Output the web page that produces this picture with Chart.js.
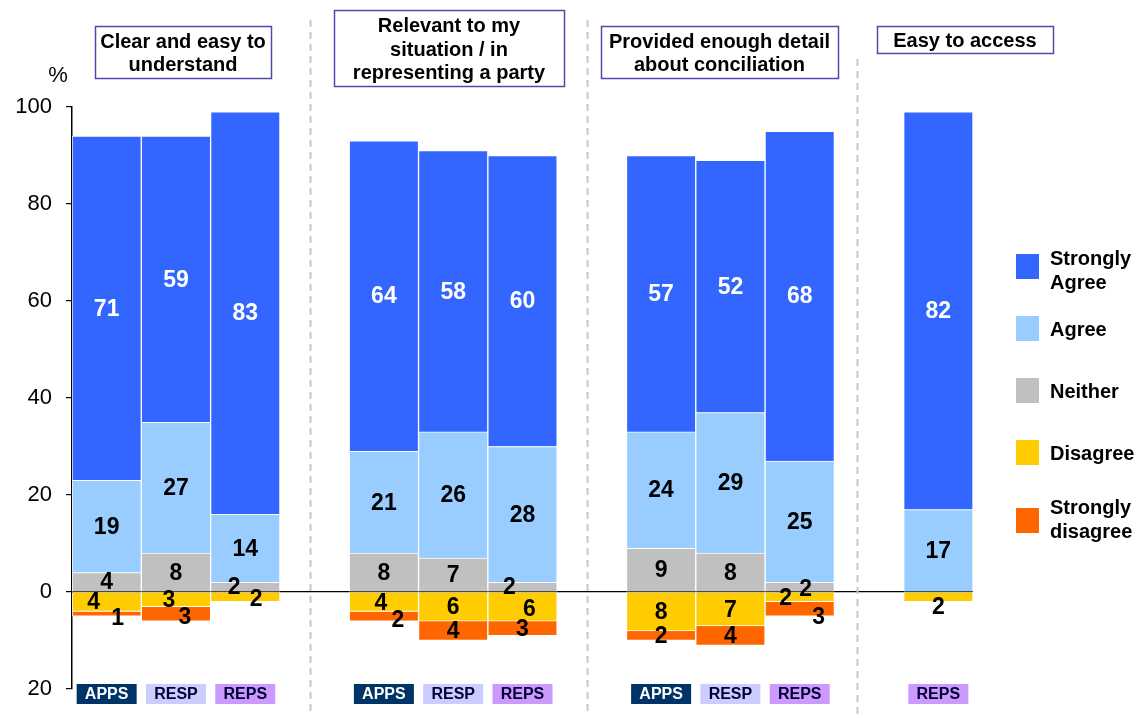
<!DOCTYPE html>
<html>
<head>
<meta charset="utf-8">
<script src="https://cdn.jsdelivr.net/npm/chart.js@4"></script>
<style>
  body { margin: 0; background: #fff; }
  #wrap { width: 1140px; height: 718px; }
</style>
</head>
<body>
<div id="wrap"><canvas id="myChart" width="1140" height="718"></canvas></div>
<script>
// 資料：每組三條（最後一組只有 REPS），空位用 null 隔開
const barLabels = ['APPS', 'RESP', 'REPS', '', 'APPS', 'RESP', 'REPS', '', 'APPS', 'RESP', 'REPS', '', 'REPS'];
const stronglyAgree = [71, 59, 83, null, 64, 58, 60, null, 57, 52, 68, null, 82];
const agree = [19, 27, 14, null, 21, 26, 28, null, 24, 29, 25, null, 17];
const neither = [4, 8, 2, null, 8, 7, 2, null, 9, 8, 2, null, null];
const disagree = [-4, -3, -2, null, -4, -6, -6, null, -8, -7, -2, null, -2];
const stronglyDisagree = [-1, -3, null, null, -2, -4, -3, null, -2, -4, -3, null, null];

const groupTitles = [
    ['Clear and easy to', 'understand'],
    ['Relevant to my', 'situation / in', 'representing a party'],
    ['Provided enough detail', 'about conciliation'],
    ['Easy to access']
];
const yTicks = [-20, 0, 20, 40, 60, 80, 100];

const FONT = "'Liberation Sans', Arial, sans-serif";

// 標題框位置（像素）
const titleBoxes = [
    { x: 95, y: 26, w: 176, h: 52 },
    { x: 334, y: 10, w: 230, h: 76 },
    { x: 601, y: 26, w: 237, h: 52 },
    { x: 877, y: 26, w: 176, h: 27 }
];

// 小段落的標籤微調 [dx, dy]，key = 資料集-索引
const labelNudge = {
    '3-0': [-13, 0], '4-0': [11, 4],
    '3-1': [-7, 0], '4-1': [9, 3],
    '0-2': [-11, 0], '3-2': [11, 2],
    '3-4': [-3, 1], '4-4': [14, 3],
    '0-6': [-13, 0], '3-6': [7, 2],
    '0-10': [6, 2], '3-10': [-14, 1], '4-10': [19, 8],
    '3-12': [0, 10]
};

const tagStyle = {
    APPS: { bg: '#003366', fg: '#ffffff' },
    RESP: { bg: '#CCCCFF', fg: '#000033' },
    REPS: { bg: '#CC99FF', fg: '#000033' }
};

// 數值標籤
const valueLabels = {
    id: 'valueLabels',
    afterDatasetsDraw(chart) {
        const ctx = chart.ctx;
        ctx.save();
        ctx.font = `bold 23px ${FONT}`;
        ctx.textAlign = 'center';
        ctx.textBaseline = 'middle';
        chart.data.datasets.forEach((ds, di) => {
            const meta = chart.getDatasetMeta(di);
            meta.data.forEach((bar, i) => {
                const v = ds.data[i];
                if (v === null || v === undefined) return;
                const nudge = labelNudge[di + '-' + i] || [0, 0];
                const cy = (bar.y + bar.base) / 2;
                ctx.fillStyle = ds.labelColor;
                ctx.fillText(String(Math.abs(v)), bar.x + nudge[0], cy + nudge[1] + 1);
            });
        });
        ctx.restore();
    }
};

// 標題框、分隔虛線、底部標籤、圖例
const decorations = {
    id: 'decorations',
    afterDraw(chart) {
        const ctx = chart.ctx;
        const xs = chart.scales.x;
        ctx.save();

        // 分隔虛線（位置以類別寬度計，從左邊起算）
        ctx.strokeStyle = '#C8C8C8';
        ctx.lineWidth = 2;
        ctx.setLineDash([7, 5]);
        [[3.43, 20], [7.43, 20], [11.33, 59]].forEach(([at, top]) => {
            const x = Math.round(xs.getPixelForValue(at - 0.5)) + 0.5;
            ctx.beginPath();
            ctx.moveTo(x, top);
            ctx.lineTo(x, 714);
            ctx.stroke();
        });
        ctx.setLineDash([]);

        // 標題框
        ctx.font = `bold 20px ${FONT}`;
        ctx.textAlign = 'center';
        ctx.textBaseline = 'middle';
        groupTitles.forEach((lines, g) => {
            const b = titleBoxes[g];
            ctx.fillStyle = '#fff';
            ctx.fillRect(b.x, b.y, b.w, b.h);
            ctx.strokeStyle = '#4B4BA8';
            ctx.lineWidth = 1.5;
            ctx.strokeRect(b.x + 0.5, b.y + 0.5, b.w, b.h);
            ctx.fillStyle = '#000';
            const lh = 23.5;
            const startY = b.y + b.h / 2 - (lines.length - 1) * lh / 2 + 2;
            lines.forEach((t, k) => ctx.fillText(t, b.x + b.w / 2, startY + k * lh));
        });

        // % 單位
        ctx.font = `22px ${FONT}`;
        ctx.fillStyle = '#000';
        ctx.fillText('%', 58, 76);

        // 底部類別標籤
        ctx.font = `bold 16px ${FONT}`;
        barLabels.forEach((lab, i) => {
            if (!lab) return;
            const st = tagStyle[lab];
            const cx = xs.getPixelForValue(i);
            ctx.fillStyle = st.bg;
            ctx.fillRect(cx - 30, 684, 60, 20);
            ctx.fillStyle = st.fg;
            ctx.fillText(lab, cx, 695);
        });

        // 圖例
        const legendItems = [
            { ds: 2, lines: ['Strongly', 'Agree'], y: 270 },
            { ds: 1, lines: ['Agree'], y: 329 },
            { ds: 0, lines: ['Neither'], y: 391 },
            { ds: 3, lines: ['Disagree'], y: 453 },
            { ds: 4, lines: ['Strongly', 'disagree'], y: 519 }
        ];
        const markerY = [266, 328, 390, 452, 520];
        ctx.font = `bold 20px ${FONT}`;
        ctx.textAlign = 'left';
        legendItems.forEach((item, k) => {
            ctx.fillStyle = chart.data.datasets[item.ds].backgroundColor;
            ctx.fillRect(1016, markerY[k] - 12, 23, 25);
            ctx.fillStyle = '#000';
            const lh = 24;
            const sy = item.y - (item.lines.length - 1) * lh / 2 + 1;
            item.lines.forEach((t, j) => ctx.fillText(t, 1050, sy + j * lh));
        });

        ctx.restore();
    }
};

const ctx = document.getElementById('myChart').getContext('2d');
const myChart = new Chart(ctx, {
    type: 'bar',
    data: {
        labels: barLabels,
        datasets: [
            { label: 'Neither', data: neither, backgroundColor: '#C0C0C0', labelColor: '#000' },
            { label: 'Agree', data: agree, backgroundColor: '#99CCFF', labelColor: '#000' },
            { label: 'Strongly Agree', data: stronglyAgree, backgroundColor: '#3366FF', labelColor: '#fff' },
            { label: 'Disagree', data: disagree, backgroundColor: '#FFCC00', labelColor: '#000' },
            { label: 'Strongly disagree', data: stronglyDisagree, backgroundColor: '#FF6600', labelColor: '#000' }
        ].map(d => Object.assign(d, {
            borderColor: '#ffffff',
            borderWidth: 1,
            barPercentage: 1,
            categoryPercentage: 1
        }))
    },
    options: {
        responsive: false,
        animation: false,
        layout: { padding: { top: 107, bottom: 29, left: 0, right: 167 } },
        plugins: {
            legend: { display: false },
            tooltip: { enabled: false }
        },
        scales: {
            x: { stacked: true, display: false },
            y: {
                stacked: true,
                min: -20,
                max: 100,
                afterBuildTicks: s => { s.ticks = yTicks.map(v => ({ value: v })); },
                afterFit: s => { s.width = 72; },
                ticks: {
                    callback: v => Math.abs(v),
                    color: '#000',
                    font: { family: FONT, size: 22 },
                    padding: 14
                },
                grid: {
                    color: c => (c.tick && c.tick.value === 0 ? '#000' : 'rgba(0,0,0,0)'),
                    tickColor: '#000',
                    tickLength: 6,
                    lineWidth: 1.2
                },
                border: { color: '#000', width: 1.5 }
            }
        }
    },
    plugins: [valueLabels, decorations]
});
</script>
</body>
</html>
